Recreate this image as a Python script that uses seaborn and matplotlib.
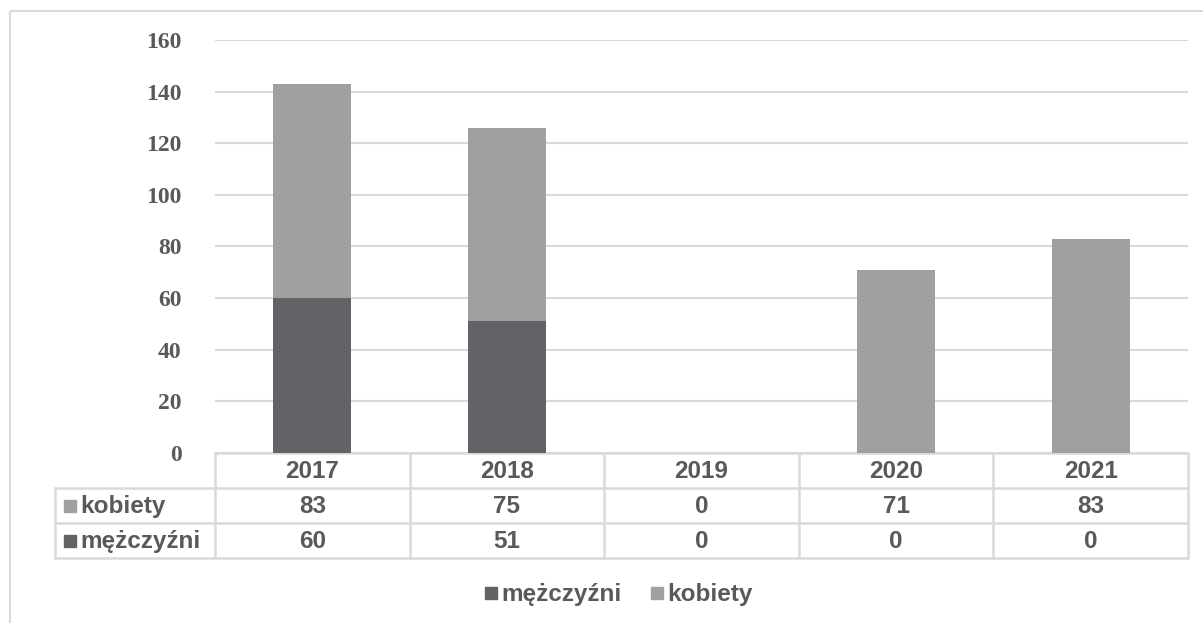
import numpy as np
import pandas as pd
import matplotlib
matplotlib.use('Agg')
import matplotlib.pyplot as plt
from matplotlib.patches import Rectangle
import seaborn as sns

# dane
years = ['2017', '2018', '2019', '2020', '2021']
kobiety = [83, 75, 0, 71, 83]
mezczyzni = [60, 51, 0, 0, 0]

c_men = '#636266'
c_women = '#a0a0a0'
c_text = '#595959'
c_grid = '#d9d9d9'

df = pd.DataFrame({'rok': years, 'kobiety': kobiety, 'mezczyzni': mezczyzni})
df['razem'] = df['kobiety'] + df['mezczyzni']

sns.set_style('white')
plt.rcParams['font.family'] = ['Liberation Sans', 'DejaVu Sans']

W, H = 1203, 623
fig = plt.figure(figsize=(W / 100, H / 100), dpi=100)

# ramka wykresu + tabela rysowane w pikselach
over = fig.add_axes([0, 0, 1, 1])
over.set_xlim(0, W)
over.set_ylim(H, 0)
over.axis('off')
over.add_patch(Rectangle((10, 11), W, H, fill=False, edgecolor=c_grid, lw=1.5))

# obszar słupków
x0, x1, ytop, ybot = 215, 1188, 40, 453
ax = fig.add_axes([x0 / W, 1 - ybot / H, (x1 - x0) / W, (ybot - ytop) / H])
sns.barplot(data=df, x='rok', y='razem', color=c_women, width=0.4,
            saturation=1, linewidth=0, ax=ax)
sns.barplot(data=df, x='rok', y='mezczyzni', color=c_men, width=0.4,
            saturation=1, linewidth=0, ax=ax)
ax.set_ylim(0, 160)
ax.set_yticks(range(0, 161, 20))
ax.set_xlim(-0.5, len(years) - 0.5)
ax.yaxis.grid(True, color=c_grid, lw=1.5)
ax.set_axisbelow(True)
for s in ax.spines.values():
    s.set_visible(False)
ax.set_xlabel('')
ax.set_ylabel('')
ax.set_xticks([])
ax.tick_params(axis='y', length=0, pad=24)
for lab in ax.get_yticklabels():
    lab.set_fontfamily('Liberation Serif')
    lab.set_fontweight('bold')
    lab.set_fontsize(17)
    lab.set_color(c_text)
ax.patch.set_alpha(0)

# tabela danych
tl = 55
rows_y = [453, 488, 523, 558]
col_w = (x1 - x0) / len(years)
col_x = [x0 + i * col_w for i in range(len(years) + 1)]
lk = dict(color=c_grid, lw=1.8)
over.plot([x0, x1], [rows_y[0]] * 2, **lk)
for y in rows_y[1:]:
    over.plot([tl, x1], [y, y], **lk)
over.plot([tl, tl], [rows_y[1], rows_y[3]], **lk)
for x in col_x:
    over.plot([x, x], [rows_y[0], rows_y[3]], **lk)

fs = 17.5
tk = dict(fontsize=fs, fontweight='bold', color=c_text, ha='center', va='center')
for i, yr in enumerate(years):
    cx = (col_x[i] + col_x[i + 1]) / 2
    over.text(cx, (rows_y[0] + rows_y[1]) / 2 + 1, yr, **tk)
    over.text(cx, (rows_y[1] + rows_y[2]) / 2 + 1, str(kobiety[i]), **tk)
    over.text(cx, (rows_y[2] + rows_y[3]) / 2 + 1, str(mezczyzni[i]), **tk)

for (name, col, r) in [('kobiety', c_women, 1), ('mężczyźni', c_men, 2)]:
    cy = (rows_y[r] + rows_y[r + 1]) / 2
    over.add_patch(Rectangle((64, cy - 6), 12, 12, color=col))
    over.text(80, cy + 1, name, fontsize=fs, fontweight='bold', color=c_text,
              ha='left', va='center')

# legenda
leg_y = 593
for (name, col, lx) in [('mężczyźni', c_men, 485), ('kobiety', c_women, 651)]:
    over.add_patch(Rectangle((lx, leg_y - 6), 12, 12, color=col))
    over.text(lx + 16, leg_y + 1, name, fontsize=fs, fontweight='bold', color=c_text,
              ha='left', va='center')

fig.savefig('out.png', dpi=100)
